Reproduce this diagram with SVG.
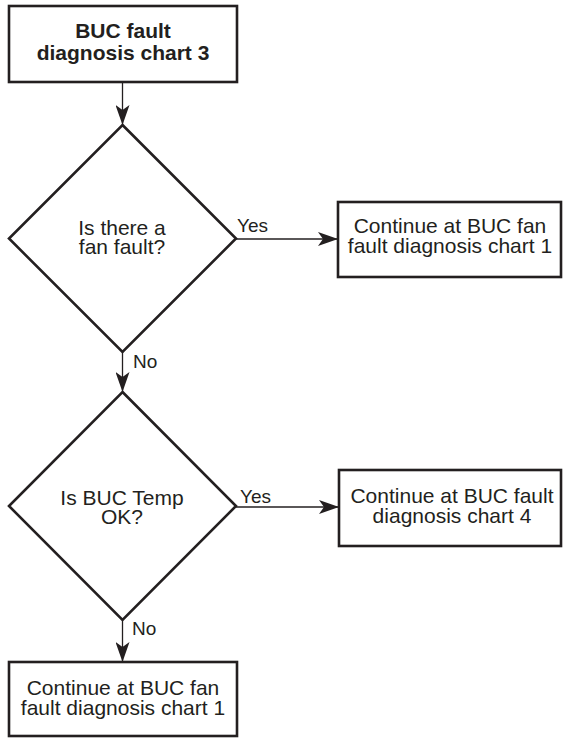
<svg xmlns="http://www.w3.org/2000/svg" width="563" height="739" viewBox="0 0 563 739">
<style>
.shape{fill:#fff;stroke:#231f20;stroke-width:2.6;stroke-linejoin:miter}
.conn{fill:none;stroke:#231f20;stroke-width:1.3}
.t{font-family:"Liberation Sans",Arial,sans-serif;font-size:21px;fill:#231f20;text-anchor:middle}
.b{font-weight:bold}
.lbl{font-family:"Liberation Sans",Arial,sans-serif;font-size:19px;fill:#231f20}
</style>
<defs>
<marker id="arr" markerUnits="userSpaceOnUse" markerWidth="21" markerHeight="14" viewBox="0 0 21 14" refX="20" refY="7" orient="auto">
<path d="M0,0 L20,7 L0,14 L5,7 Z" fill="#231f20"/>
</marker>
</defs>
<rect width="563" height="739" fill="#fff"/>
<g id="connectors">
<line class="conn" x1="122.5" y1="83" x2="122.5" y2="125" marker-end="url(#arr)"/>
<line class="conn" x1="236" y1="239" x2="338" y2="239" marker-end="url(#arr)"/>
<line class="conn" x1="122.5" y1="352" x2="122.5" y2="392" marker-end="url(#arr)"/>
<line class="conn" x1="236" y1="507" x2="339" y2="507" marker-end="url(#arr)"/>
<line class="conn" x1="122.5" y1="620" x2="122.5" y2="662" marker-end="url(#arr)"/>
<text class="lbl" x="237" y="232">Yes</text>
<text class="lbl" x="133" y="368">No</text>
<text class="lbl" x="240" y="503">Yes</text>
<text class="lbl" x="132" y="635">No</text>
</g>
<g id="start">
<rect class="shape" x="9" y="6" width="228" height="76"/>
<text class="t b" x="123" y="38">BUC fault</text>
<text class="t b" x="123" y="60">diagnosis chart 3</text>
</g>
<g id="q1">
<polygon class="shape" points="122.5,125 236,238.5 122.5,352 9,238.5"/>
<text class="t" x="122" y="235">Is there a</text>
<text class="t" x="122" y="254">fan fault?</text>
</g>
<g id="r1">
<rect class="shape" x="338" y="202" width="223" height="75"/>
<text class="t" x="450" y="233">Continue at BUC fan</text>
<text class="t" x="450" y="253">fault diagnosis chart 1</text>
</g>
<g id="q2">
<polygon class="shape" points="122.5,392 236,506 122.5,620 9,506"/>
<text class="t" x="122" y="505">Is BUC Temp</text>
<text class="t" x="122" y="524">OK?</text>
</g>
<g id="r2">
<rect class="shape" x="339" y="470" width="222" height="76"/>
<text class="t" x="452" y="503">Continue at BUC fault</text>
<text class="t" x="452" y="523">diagnosis chart 4</text>
</g>
<g id="r3">
<rect class="shape" x="9" y="662" width="228" height="74"/>
<text class="t" x="123" y="695">Continue at BUC fan</text>
<text class="t" x="123" y="715">fault diagnosis chart 1</text>
</g>
</svg>
